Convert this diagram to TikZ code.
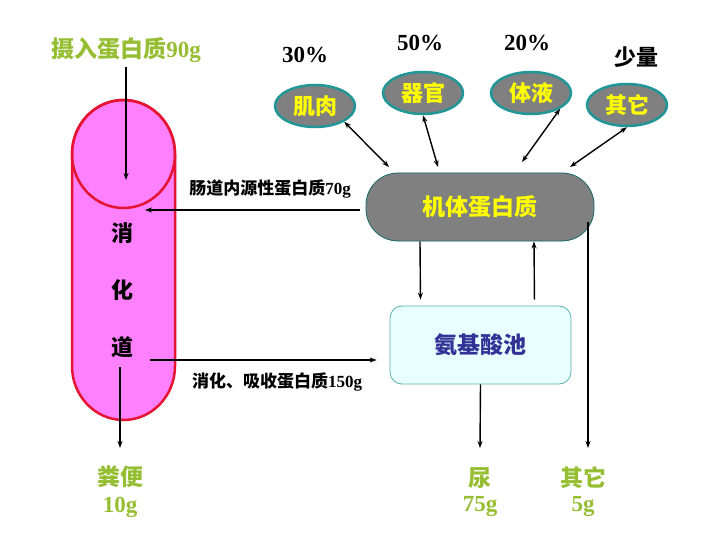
\documentclass[tikz,border=0pt]{standalone}
\usepackage{fontspec}
\setmainfont{Liberation Serif}
\newfontfamily\cjk{Noto Sans CJK SC}
\usetikzlibrary{shapes.geometric,arrows.meta,calc}
\definecolor{gutpink}{RGB}{255,128,255}
\definecolor{gutred}{RGB}{228,20,50}
\definecolor{tealb}{RGB}{32,150,150}
\definecolor{greyf}{RGB}{128,128,128}
\definecolor{yel}{RGB}{255,255,0}
\definecolor{grn}{RGB}{150,190,50}
\definecolor{poolfill}{RGB}{232,255,255}
\definecolor{poolline}{RGB}{90,175,175}
\definecolor{navyt}{RGB}{50,50,150}
\begin{document}
\begin{tikzpicture}[x=1pt,y=1pt,
  organ/.style={ellipse, draw=tealb, line width=2.5pt, fill=greyf, minimum width=80pt, minimum height=42pt, inner sep=0pt, text=yel, font=\cjk\bfseries\fontsize{22}{24}\selectfont},
  pct/.style={inner sep=0pt, font=\bfseries\fontsize{23}{26}\selectfont},
  cjklabel/.style={inner sep=0pt, font=\cjk\bfseries\fontsize{22}{24}\selectfont},
  smalllabel/.style={inner sep=0pt, font=\bfseries\fontsize{17}{20}\selectfont},
  greenlabel/.style={inner sep=0pt, text=grn, font=\bfseries\fontsize{23}{26}\selectfont},
  flow/.style={line width=1.4pt, -{Stealth[length=7pt,width=5pt]}},
  both/.style={line width=1.4pt, {Stealth[length=7pt,width=5pt]}-{Stealth[length=7pt,width=5pt]}},
  plain/.style={line width=1.4pt}
]
\useasboundingbox (0,0) rectangle (720,-540);
\fill[white] (0,0) rectangle (720,-540);

% digestive tract
\path[draw=gutred, line width=2.5pt, fill=gutpink]
  (72,-154) arc[start angle=180, end angle=0, x radius=51.5pt, y radius=54pt]
  -- (175,-366) arc[start angle=0, end angle=-180, x radius=51.5pt, y radius=54pt] -- cycle;
\draw[gutred, line width=2.5pt] (123.5,-154) ellipse[x radius=51.5pt, y radius=54pt];
\node[cjklabel] (xiao) at (122,-233) {消};
\node[cjklabel] (hua) at (122,-290) {化};
\node[cjklabel] (dao) at (122,-347) {道};

% intake
\node[greenlabel] (intake) at (126,-50) {{\cjk 摄入蛋白质}90g};
\coordinate (gutin) at (126,-180);
\draw[flow] (intake.south) ++(0,-4) -- (gutin);

% percentages
\node[pct] (p30) at (305,-55) {30\%};
\node[pct] (p50) at (420,-43) {50\%};
\node[pct] (p20) at (527,-43) {20\%};
\node[cjklabel] (few) at (636,-57) {少量};

% organs
\node[organ] (muscle) at (315,-106) {肌肉};
\node[organ] (organs) at (423,-93) {器官};
\node[organ] (fluid) at (531,-93) {体液};
\node[organ] (other) at (627,-105) {其它};

% body protein
\node[draw=tealb!70!black, line width=0.8pt, fill=greyf, rounded corners=32pt,
  minimum width=228pt, minimum height=68pt, inner sep=0pt, text=yel,
  font=\cjk\bfseries\fontsize{23}{26}\selectfont] (body) at (480,-207) {机体蛋白质};

% amino acid pool
\node[draw=poolline, line width=0.8pt, fill=poolfill, rounded corners=12pt,
  minimum width=181pt, minimum height=78pt, inner sep=0pt, text=navyt,
  font=\cjk\bfseries\fontsize{23}{26}\selectfont] (pool) at (480.5,-345) {氨基酸池};

% organ arrows
\coordinate (bm) at (389,-167);
\coordinate (bo) at (438,-167);
\coordinate (bf) at (522,-162);
\coordinate (bt) at (570,-167);
\draw[both] (muscle.south east) -- (bm);
\draw[both] (organs.south) -- (bo);
\draw[both] (fluid.south east) -- (bf);
\draw[both] (other.south) -- (bt);

% endogenous protein
\node[smalllabel] (endo) at (270,-189) {{\cjk 肠道内源性蛋白质}70g};
\coordinate (gutendo) at (145,-210);
\draw[flow] (body.west |- gutendo) ++(-6,0) -- (gutendo);

% absorbed protein
\node[smalllabel] (absorb) at (277,-382) {{\cjk 消化、吸收蛋白质}150g};
\coordinate (absstart) at (150,-360);
\draw[flow, shorten >=13pt] (absstart) -- (absstart -| pool.west);

% body <-> pool
\draw[flow, shorten >=6pt] ([xshift=-60pt]body.south) -- ([xshift=-60pt]pool.north);
\draw[flow, shorten <=6pt] ([xshift=54pt]pool.north) -- ([xshift=54pt]body.south);

% outputs
\node[greenlabel, font=\cjk\bfseries\fontsize{23}{26}\selectfont] (feces) at (120,-477) {粪便};
\node[greenlabel] (feces10) at (120,-507) {10g};
\node[greenlabel, font=\cjk\bfseries\fontsize{23}{26}\selectfont] (urine) at (480,-478) {尿};
\node[greenlabel] (urine75) at (480,-507) {75g};
\node[greenlabel, font=\cjk\bfseries\fontsize{23}{26}\selectfont] (others) at (583,-478) {其它};
\node[greenlabel] (others5) at (583,-507) {5g};

\coordinate (fecesstart) at (120,-367);
\coordinate (fecesend) at (120,-448);
\coordinate (urineend) at (480,-448);
\coordinate (bodyout) at (588,-222);
\coordinate (otherend) at (588,-448);
\draw[flow] (fecesstart) -- (fecesend);
\draw[flow] (pool.south) -- (urineend);
\draw[flow] (bodyout) -- (otherend);
\end{tikzpicture}
\end{document}
